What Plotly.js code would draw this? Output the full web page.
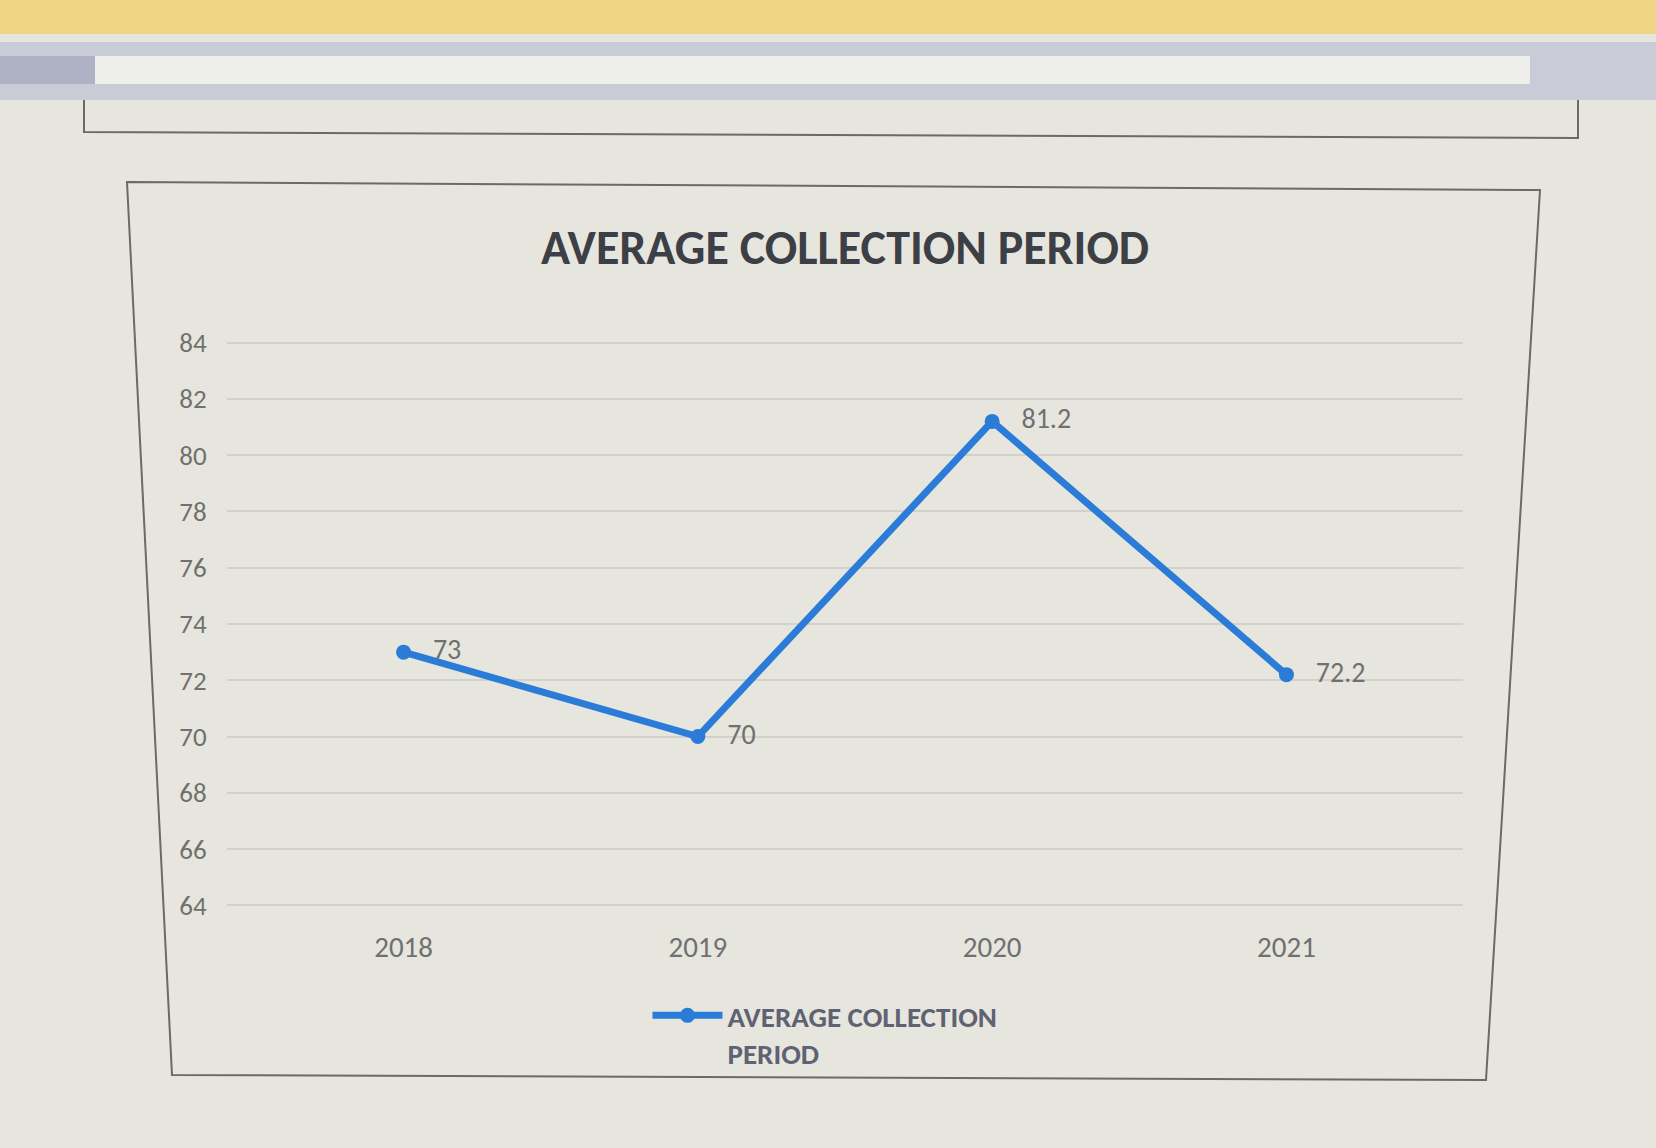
<!DOCTYPE html>
<html>
<head>
<meta charset="utf-8">
<script src="https://cdn.plot.ly/plotly-3.0.1.min.js"></script>
<style>
  html, body { margin: 0; padding: 0; background: #e7e6de; }
  #chart { width: 1656px; height: 1148px; }
</style>
</head>
<body>
<div id="chart"></div>
<script>
var years = ['2018', '2019', '2020', '2021'];
var collectionDays = [73, 70, 81.2, 72.2];
var yTicks = [64, 66, 68, 70, 72, 74, 76, 78, 80, 82, 84];
var seriesName = 'AVERAGE COLLECTION PERIOD';

var blue = '#2b7bd8';
var font = 'Carlito, "Liberation Sans Narrow", "DejaVu Sans Condensed", Lato, sans-serif';

// plot area in pixels, used to place the chart frame
var plotL = 227, plotR = 1463, plotT = 337, plotB = 911;
function px(x) { return (x - plotL) / (plotR - plotL); }
function py(y) { return (plotB - y) / (plotB - plotT); }

var frame = 'M ' + px(127) + ',' + py(182) +
            ' L ' + px(1540) + ',' + py(190) +
            ' L ' + px(1486) + ',' + py(1080) +
            ' L ' + px(172) + ',' + py(1075) + ' Z';

var tableLine = 'M ' + px(84) + ',' + py(100) +
                ' L ' + px(84) + ',' + py(132) +
                ' L ' + px(1578) + ',' + py(138) +
                ' L ' + px(1578) + ',' + py(100);

var trace = {
    x: [0, 1, 2, 3],
    y: collectionDays,
    text: collectionDays.map(String),
    texttemplate: '   %{text}',
    mode: 'lines+markers+text',
    textposition: 'middle right',
    textfont: { family: font, size: 28, color: '#707070' },
    name: 'AVERAGE COLLECTION<br>PERIOD',
    line: { color: blue, width: 7 },
    marker: { color: blue, size: 15 },
    cliponaxis: false
};

var layout = {
    width: 1656,
    height: 1148,
    paper_bgcolor: '#e7e6de',
    plot_bgcolor: 'rgba(0,0,0,0)',
    margin: { l: plotL, r: 1656 - plotR, t: plotT, b: 1148 - plotB },
    title: {
        text: seriesName,
        font: { family: font, size: 48, color: '#3d3f46', weight: 600 },
        x: 0.5, xref: 'paper', xanchor: 'center',
        y: 1 - 247 / 1148, yanchor: 'middle'
    },
    xaxis: {
        range: [-0.6, 3.6],
        tickmode: 'array',
        tickvals: [0, 1, 2, 3],
        ticktext: years,
        showgrid: false,
        zeroline: false,
        showline: false,
        ticks: 'outside',
        ticklen: 10,
        tickcolor: 'rgba(0,0,0,0)',
        tickfont: { family: font, size: 29, color: '#707070' },
        fixedrange: true
    },
    yaxis: {
        range: [63.8, 84.2],
        tickmode: 'array',
        tickvals: yTicks,
        showgrid: true,
        gridcolor: '#d2d1cb',
        gridwidth: 2,
        zeroline: false,
        showline: false,
        ticks: 'outside',
        ticklen: 14,
        tickcolor: 'rgba(0,0,0,0)',
        tickfont: { family: font, size: 27, color: '#707070' },
        fixedrange: true
    },
    showlegend: true,
    legend: {
        orientation: 'h',
        x: px(825), xanchor: 'center',
        y: py(990), yanchor: 'top',
        valign: 'top',
        itemwidth: 70,
        font: { family: font, size: 29, color: '#5e6272', weight: 600 },
        bgcolor: 'rgba(0,0,0,0)'
    },
    shapes: [
        // warning bar, ruler and table of the word processor round the chart
        { type: 'rect', xref: 'paper', yref: 'paper', x0: px(0), x1: px(1656), y0: py(0), y1: py(34),
          fillcolor: '#efd685', line: { width: 0 }, layer: 'below' },
        { type: 'rect', xref: 'paper', yref: 'paper', x0: px(0), x1: px(1656), y0: py(42), y1: py(100),
          fillcolor: '#c9ccd6', line: { width: 0 }, layer: 'below' },
        { type: 'rect', xref: 'paper', yref: 'paper', x0: px(0), x1: px(95), y0: py(56), y1: py(84),
          fillcolor: '#aeb2c4', line: { width: 0 }, layer: 'below' },
        { type: 'rect', xref: 'paper', yref: 'paper', x0: px(95), x1: px(1530), y0: py(56), y1: py(84),
          fillcolor: '#eeeeea', line: { width: 0 }, layer: 'below' },
        { type: 'path', xref: 'paper', yref: 'paper', path: tableLine,
          line: { color: '#6a6a66', width: 2 }, layer: 'below' },
        { type: 'path', xref: 'paper', yref: 'paper', path: frame,
          line: { color: '#6a6a66', width: 2 }, fillcolor: 'rgba(0,0,0,0)', layer: 'below' }
    ]
};

Plotly.newPlot('chart', [trace], layout, { displayModeBar: false, staticPlot: true });
</script>
</body>
</html>
